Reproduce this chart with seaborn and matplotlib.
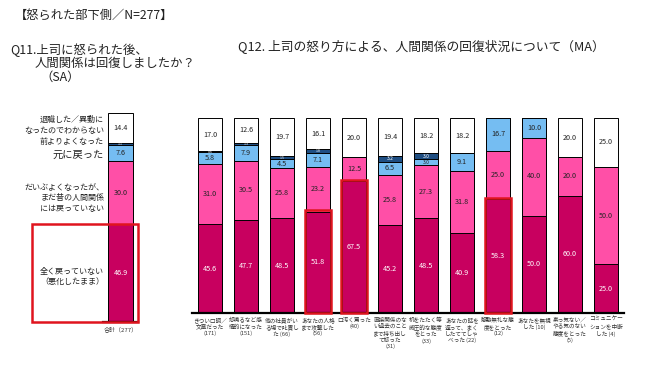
import pandas as pd
import seaborn as sns
import matplotlib.pyplot as plt
from matplotlib.patches import Rectangle

sns.set_theme(style='white')
plt.rcParams['font.family'] = ['Noto Sans CJK JP', 'DejaVu Sans']

# stack order, bottom -> top
segments = ['全く戻っていない', 'だいぶよくなった', '元に戻った', '前よりよくなった', '退職・異動']
seg_colors = ['#C8005F', '#FF4FA7', '#75BDF2', '#1F4E82', '#FFFFFF']
text_colors = ['white', '#222222', '#222222', 'white', '#222222']

# Q11 (total)
total_label = '合計（277）'
total_values = [46.9, 30.0, 7.6, 1.1, 14.4]
total_seg_labels = ['全く戻っていない\n（悪化したまま）',
                    'だいぶよくなったが、\nまだ昔の人間関係\nには戻っていない',
                    '元に戻った', '前よりよくなった',
                    '退職した／異動に\nなったのでわからない']

# Q12
categories = ['きつい口調／\n文章だった\n(171)', '怒鳴るなど感\n情的になった\n(151)',
              '他の社員がい\nる場で叱責し\nた (66)', 'あなたの人格\nまで攻撃した\n(56)',
              '口汚く罵った\n(40)', '直接関係のな\nい過去のこと\nまで持ち出し\nて怒った\n(31)',
              '机をたたく等\n威圧的な態度\nをとった\n(33)', 'あなたの話を\n遮って、まく\nしたててしゃ\nべった (22)',
              '慇懃無礼な態\n度をとった\n(12)', 'あなたを無視\nした (10)',
              '素っ気ない／\nやる気のない\n態度をとった\n(5)', 'コミュニケー\nションを中断\nした (4)']
not_back = [45.6, 47.7, 48.5, 51.8, 67.5, 45.2, 48.5, 40.9, 58.3, 50.0, 60.0, 25.0]
mostly = [31.0, 30.5, 25.8, 23.2, 12.5, 25.8, 27.3, 31.8, 25.0, 40.0, 20.0, 50.0]
back = [5.8, 7.9, 4.5, 7.1, 0.0, 6.5, 3.0, 9.1, 16.7, 10.0, 0.0, 0.0]
better = [0.6, 1.3, 1.5, 1.8, 0.0, 3.2, 3.0, 0.0, 0.0, 0.0, 0.0, 0.0]
left_job = [17.0, 12.6, 19.7, 16.1, 20.0, 19.4, 18.2, 18.2, 0.0, 0.0, 20.0, 25.0]
highlight = [3, 4, 8]

W = 650
H = 368
fig = plt.figure(figsize=(W / 100, H / 100), dpi=100)


def px_axes(x0, y0, x1, y1):
    return fig.add_axes([x0 / W, 1 - y1 / H, (x1 - x0) / W, (y1 - y0) / H])


def stacked(ax, labels, series, width):
    df = pd.DataFrame({'cat': labels})
    cum = [0.0] * len(labels)
    cums = []
    for s in series:
        cum = [c + v for c, v in zip(cum, s)]
        cums.append(cum)
    # draw from the top down so that lower segments cover upper ones
    for k in range(len(series) - 1, -1, -1):
        df['y'] = cums[k]
        sns.barplot(data=df, x='cat', y='y', color=seg_colors[k], saturation=1,
                    width=width, edgecolor='black', linewidth=0.7, ax=ax)
    for k, s in enumerate(series):
        for i, v in enumerate(s):
            if v <= 0:
                continue
            mid = cums[k][i] - v / 2
            if v >= 4:
                fs = 5.2
            elif v >= 2.5:
                fs = 3.6
            else:
                fs = 2.6
            ax.text(i, mid, f'{v:.1f}', ha='center', va='center',
                    fontsize=fs, color=text_colors[k])
    ax.set_ylim(0, 100)
    ax.set_xlim(-0.5, len(labels) - 0.5)
    ax.set_xlabel('')
    ax.set_ylabel('')
    ax.set_yticks([])
    for sp in ['left', 'right', 'top']:
        ax.spines[sp].set_visible(False)
    ax.spines['bottom'].set_color('black')
    ax.spines['bottom'].set_linewidth(1.6)
    ax.tick_params(axis='x', length=0, pad=3)
    return cums


# left chart
ax1 = px_axes(103, 113, 138, 322)
tot_series = [[v] for v in total_values]
cums1 = stacked(ax1, [total_label], tot_series, 0.71)
ax1.set_xticks([0])
ax1.set_xticklabels([total_label], fontsize=4.3, color='#333333')
nudge = [-2.0, -2.5, -0.8, 1.2, 1.5]
for k, lab in enumerate(total_seg_labels):
    mid = cums1[k][0] - total_values[k] / 2 + nudge[k]
    fs = 7.4 if k == 2 else 5.8
    ax1.text(-0.47, mid, lab, ha='right', va='center', fontsize=fs,
             color='#222222', linespacing=1.2)
fig.add_artist(Rectangle((32 / W, 1 - 322 / H), (138 - 32) / W, (322 - 224) / H,
                         transform=fig.transFigure, fill=False,
                         edgecolor='#E0141E', linewidth=1.8))

# right chart
ax2 = px_axes(192, 118, 624, 313)
series2 = [not_back, mostly, back, better, left_job]
stacked(ax2, categories, series2, 0.67)
ax2.set_xticks(range(len(categories)))
ax2.set_xticklabels(categories, fontsize=4.1, color='#333333', linespacing=1.25, va='top')
for i in highlight:
    ax2.add_patch(Rectangle((i - 0.37, 0), 0.74, not_back[i] + 0.8, fill=False,
                            edgecolor='#E0141E', linewidth=1.8, clip_on=False, zorder=5))

# titles
fig.text(15 / W, 1 - 15 / H, '【怒られた部下側／N=277】', fontsize=8.8, va='center', color='#222222')
fig.text(10 / W, 1 - 50 / H, 'Q11.上司に怒られた後、', fontsize=8.9, va='center', color='#222222')
fig.text(35 / W, 1 - 63 / H, '人間関係は回復しましたか？', fontsize=8.9, va='center', color='#222222')
fig.text(40 / W, 1 - 77 / H, '（SA）', fontsize=8.9, va='center', color='#222222')
fig.text(238 / W, 1 - 47 / H, 'Q12. 上司の怒り方による、人間関係の回復状況について（MA）',
         fontsize=9.2, va='center', color='#222222')

fig.savefig('out.png', dpi=100)
